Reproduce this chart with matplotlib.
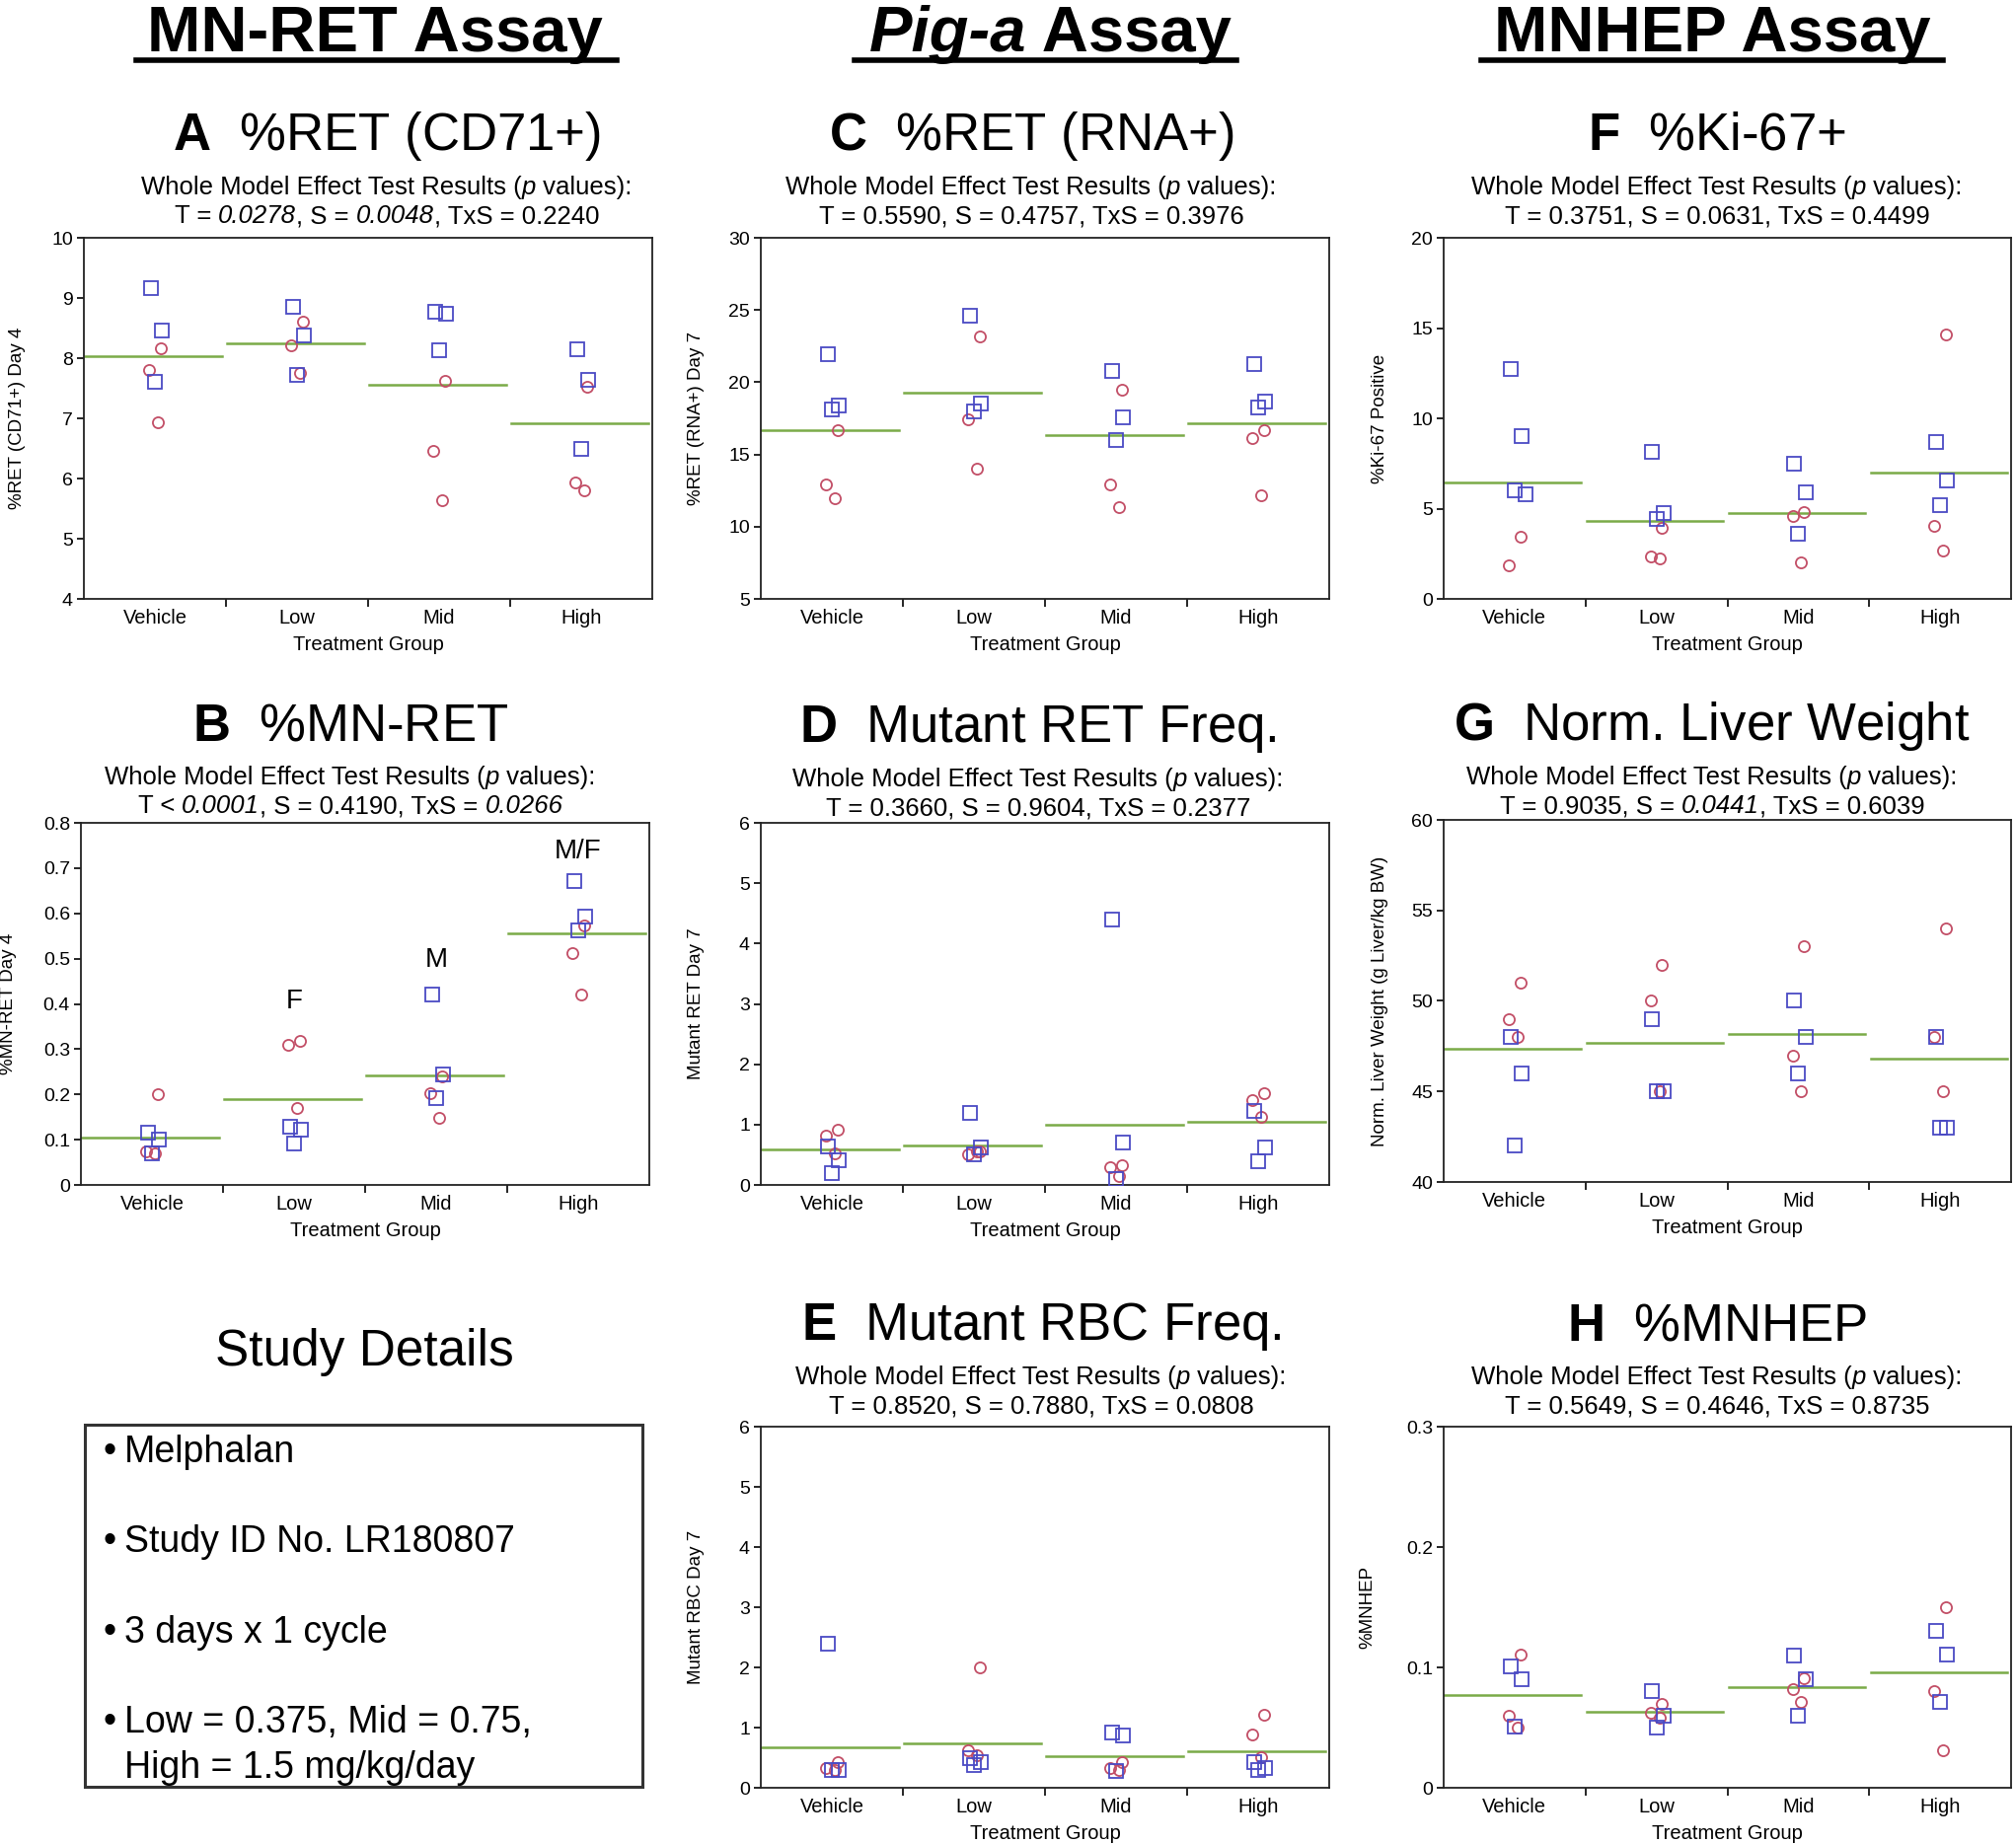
import numpy as np
import matplotlib
matplotlib.use("Agg")
import matplotlib.pyplot as plt
from matplotlib.lines import Line2D
from matplotlib.patches import Rectangle
from matplotlib.text import Annotation

plt.rcParams['font.family'] = ['Liberation Sans', 'DejaVu Sans']
plt.rcParams['mathtext.fontset'] = 'custom'
plt.rcParams['mathtext.rm'] = 'Liberation Sans'
plt.rcParams['mathtext.it'] = 'Liberation Sans:italic'
plt.rcParams['mathtext.bf'] = 'Liberation Sans:bold'

W, H = 2043, 1869
groups = ["Vehicle", "Low", "Mid", "High"]

# ---- data (male = squares, female = circles), per group ----
a_male = [[9.17, 8.46, 7.61], [8.85, 8.38, 7.72], [8.77, 8.73, 8.13], [8.14, 7.64, 6.49]]
a_female = [[8.17, 7.80, 6.94], [8.61, 8.21, 7.75], [7.63, 6.46, 5.64], [7.53, 5.94, 5.80]]

b_male = [[0.115, 0.10, 0.07], [0.129, 0.122, 0.091], [0.421, 0.244, 0.191], [0.671, 0.592, 0.563]]
b_female = [[0.20, 0.075, 0.07], [0.319, 0.309, 0.171], [0.239, 0.202, 0.149], [0.573, 0.512, 0.421]]

c_male = [[21.95, 18.41, 18.14], [24.61, 18.52, 18.0], [20.75, 17.55, 16.02], [21.27, 18.64, 18.25]]
c_female = [[16.66, 12.91, 11.95], [23.18, 17.45, 14.0], [19.45, 12.95, 11.32], [16.66, 16.14, 12.16]]

d_male = [[0.64, 0.41, 0.19], [1.2, 0.62, 0.5], [4.4, 0.7, 0.1], [1.23, 0.62, 0.40]]
d_female = [[0.92, 0.81, 0.52], [0.55, 0.5, 0.55], [0.32, 0.3, 0.15], [1.52, 1.41, 1.12]]

e_male = [[2.4, 0.3, 0.3], [0.5, 0.43, 0.37], [0.92, 0.87, 0.28], [0.43, 0.32, 0.29]]
e_female = [[0.43, 0.32, 0.3], [2.0, 0.62, 0.54], [0.43, 0.32, 0.30], [1.22, 0.89, 0.51]]

f_male = [[12.71, 9.03, 6.0, 5.8], [8.12, 4.74, 4.43], [7.49, 5.88, 3.61], [8.71, 6.56, 5.21]]
f_female = [[3.46, 1.84], [3.92, 2.33, 2.25], [4.79, 4.61, 2.02], [14.63, 4.06, 2.66]]

g_male = [[48.0, 46.0, 42.0], [49.0, 45.0, 45.0], [50.0, 48.0, 46.0], [48.0, 43.0, 43.0]]
g_female = [[51.0, 49.0, 48.0], [52.0, 50.0, 45.0], [53.0, 47.0, 45.0], [54.0, 48.0, 45.0]]

h_male = [[0.101, 0.090, 0.051], [0.080, 0.060, 0.050], [0.110, 0.090, 0.060], [0.130, 0.111, 0.071]]
h_female = [[0.111, 0.060, 0.050], [0.070, 0.062, 0.058], [0.091, 0.082, 0.071], [0.150, 0.080, 0.031]]

fig = plt.figure(figsize=(W / 100, H / 100), dpi=100)
fig.patch.set_facecolor('white')

SQ_COL = '#4a4ac4'
CI_COL = '#c24e66'
MEAN_COL = '#7aab48'
jit_sq = [-0.03, 0.05, 0.0, 0.08]
jit_ci = [0.04, -0.04, 0.02, 0.07]


def px_axes(l, t, r, b):
    return fig.add_axes([l / W, 1 - b / H, (r - l) / W, (b - t) / H])


def ftext(x, y, s, **kw):
    return fig.text(x / W, 1 - y / H, s, **kw)


def rich(cx, y, segs, fontsize):
    """Centered line built from (text, style) segments."""
    first = ftext(cx, y, segs[0][0], style=segs[0][1], fontsize=fontsize, ha='left', va='bottom')
    items = [first]
    prev = first
    for s, st in segs[1:]:
        t = Annotation(s, xy=(1, 0), xycoords=prev, ha='left', va='bottom',
                       fontsize=fontsize, style=st)
        fig.add_artist(t)
        items.append(t)
        prev = t
    rend = fig.canvas.get_renderer()
    total = sum(t.get_window_extent(rend).width for t in items)
    first.set_position(((cx - total / 2) / W, 1 - y / H))
    return items


def panel(box, male, female, ylim, yticks, yticklabels, ylabel, ylab_x):
    l, t, r, b = box
    ax = px_axes(l, t, r, b)
    for i in range(4):
        vals = list(male[i]) + list(female[i])
        m = np.mean(vals)
        ax.plot([i - 0.49, i + 0.47], [m, m], color=MEAN_COL, lw=1.8, zorder=1)
        xs = [i + jit_ci[k % 4] for k in range(len(female[i]))]
        ax.plot(xs, female[i], 'o', ms=8, mfc='none', mec=CI_COL, mew=1.3, zorder=2)
        xs = [i + jit_sq[k % 4] for k in range(len(male[i]))]
        ax.plot(xs, male[i], 's', ms=9.5, mfc='none', mec=SQ_COL, mew=1.3, zorder=3)
    ax.set_xlim(-0.5, 3.5)
    ax.set_ylim(*ylim)
    ax.set_yticks(yticks)
    ax.set_yticklabels(yticklabels)
    ax.set_xticks(range(4))
    ax.set_xticklabels(groups)
    ax.set_xticks([0.5, 1.5, 2.5], minor=True)
    ax.tick_params(axis='x', which='major', length=0, pad=7, labelsize=14.5)
    ax.tick_params(axis='x', which='minor', length=6, width=1.2, direction='out')
    ax.tick_params(axis='y', which='major', length=5, width=1.2, pad=3, labelsize=14)
    for sp in ax.spines.values():
        sp.set_linewidth(1.3)
        sp.set_color('#222222')
    ax.set_xlabel("Treatment Group", fontsize=14.5, labelpad=6)
    ax.set_ylabel(ylabel, fontsize=13.5)
    ax.yaxis.set_label_coords((ylab_x - l) / (r - l), 0.5)
    return ax


def titles(cx, y_title, letter, name, line2_segs):
    ftext(cx, y_title, r"$\mathbf{%s}$  %s" % (letter, name), fontsize=38, ha='center', va='baseline')
    rich(cx, y_title + 50, [("Whole Model Effect Test Results (", 'normal'), ("p", 'italic'),
                            (" values):", 'normal')], 18.5)
    rich(cx, y_title + 79, line2_segs, 18.5)


N, I = 'normal', 'italic'

# ---- headers ----
ftext(380, 52, "MN-RET Assay", fontsize=47, fontweight='bold', ha='center', va='baseline')
t1 = ftext(1040, 52, "Pig-a", fontsize=47, fontweight='bold', style='italic', ha='right', va='baseline')
fig.add_artist(Annotation(" Assay", xy=(1, 0), xycoords=t1, fontsize=47,
                          fontweight='bold', ha='left', va='bottom'))
ftext(1735, 52, "MNHEP Assay", fontsize=47, fontweight='bold', ha='center', va='baseline')
for x0, x1 in [(138, 625), (866, 1253), (1501, 1969)]:
    fig.add_artist(Line2D([x0 / W, x1 / W], [1 - 61 / H, 1 - 61 / H], color='black', lw=4))

# ---- row 1 ----
titles(392, 152, "A", "%RET (CD71+)",
       [("T = ", N), ("0.0278", I), (", S = ", N), ("0.0048", I), (", TxS = 0.2240", N)])
panel((85, 241, 661, 607), a_male, a_female, (4, 10), range(4, 11), [str(v) for v in range(4, 11)],
      "%RET (CD71+) Day 4", 26)

titles(1045, 152, "C", "%RET (RNA+)", [("T = 0.5590, S = 0.4757, TxS = 0.3976", N)])
panel((771, 241, 1347, 607), c_male, c_female, (5, 30), range(5, 31, 5), [str(v) for v in range(5, 31, 5)],
      "%RET (RNA+) Day 7", 714)

titles(1740, 152, "F", "%Ki-67+", [("T = 0.3751, S = 0.0631, TxS = 0.4499", N)])
panel((1463, 241, 2038, 607), f_male, f_female, (0, 20), range(0, 21, 5), [str(v) for v in range(0, 21, 5)],
      "%Ki-67 Positive", 1407)

# ---- row 2 ----
titles(355, 750, "B", "%MN-RET",
       [("T < ", N), ("0.0001", I), (", S = 0.4190, TxS = ", N), ("0.0266", I)])
axb = panel((82, 834, 658, 1201), b_male, b_female, (0, 0.8), np.arange(0, 0.81, 0.1),
            ["0"] + ["%.1f" % v for v in np.arange(0.1, 0.81, 0.1)], "%MN-RET Day 4", 17)
axb.text(1, 0.405, "F", fontsize=20, ha='center', va='center')
axb.text(2, 0.497, "M", fontsize=20, ha='center', va='center')
axb.text(3, 0.737, "M/F", fontsize=20, ha='center', va='center')

titles(1052, 752, "D", "Mutant RET Freq.", [("T = 0.3660, S = 0.9604, TxS = 0.2377", N)])
panel((771, 834, 1347, 1201), d_male, d_female, (0, 6), range(0, 7), [str(v) for v in range(0, 7)],
      "Mutant RET Day 7", 714)

titles(1735, 750, "G", "Norm. Liver Weight",
       [("T = 0.9035, S = ", N), ("0.0441", I), (", TxS = 0.6039", N)])
panel((1463, 831, 2038, 1198), g_male, g_female, (40, 60), range(40, 61, 5), [str(v) for v in range(40, 61, 5)],
      "Norm. Liver Weight (g Liver/kg BW)", 1407)

# ---- row 3 ----
titles(1055, 1358, "E", "Mutant RBC Freq.", [("T = 0.8520, S = 0.7880, TxS = 0.0808", N)])
panel((771, 1446, 1347, 1812), e_male, e_female, (0, 6), range(0, 7), [str(v) for v in range(0, 7)],
      "Mutant RBC Day 7", 714)

titles(1740, 1358, "H", "%MNHEP", [("T = 0.5649, S = 0.4646, TxS = 0.8735", N)])
panel((1463, 1446, 2038, 1812), h_male, h_female, (0, 0.3), [0, 0.1, 0.2, 0.3], ["0", "0.1", "0.2", "0.3"],
      "%MNHEP", 1394)

# ---- study details ----
ftext(369, 1384, "Study Details", fontsize=37, ha='center', va='baseline')
fig.add_artist(Rectangle((86 / W, 1 - 1811 / H), (651 - 86) / W, (1811 - 1444) / H,
                         fill=False, ec='#333333', lw=2.2, transform=fig.transFigure))
bullets = [("•", "Melphalan", 1482), ("•", "Study ID No. LR180807", 1573),
           ("•", "3 days x 1 cycle", 1665), ("•", "Low = 0.375, Mid = 0.75,", 1756),
           ("", "High = 1.5 mg/kg/day", 1802)]
for bsym, txt, yy in bullets:
    if bsym:
        ftext(104, yy, bsym, fontsize=27, ha='left', va='baseline')
    ftext(126, yy, txt, fontsize=27, ha='left', va='baseline')

fig.savefig("out.png", dpi=100)
